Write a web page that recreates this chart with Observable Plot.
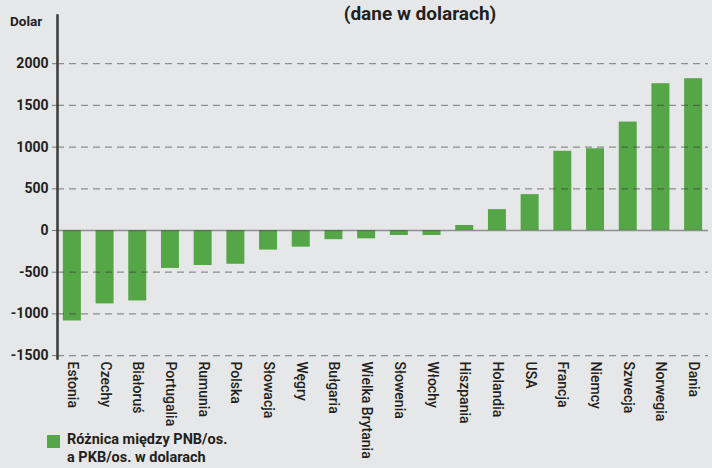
<!DOCTYPE html>
<html>
<head>
<meta charset="utf-8">
<script src="https://cdn.jsdelivr.net/npm/d3@7"></script>
<script src="https://cdn.jsdelivr.net/npm/@observablehq/plot@0.6"></script>
<style>
  html, body { margin: 0; padding: 0; background: #e6e7e8; }
  #wrap { position: relative; width: 712px; height: 468px; overflow: hidden; background: #e6e7e8; font-family: Roboto, "Open Sans", sans-serif; color: #231f20; }
  #title { position: absolute; left: 0; width: 840px; top: 2px; text-align: center; font-weight: 700; font-size: 19px; }
  #ylab { position: absolute; left: 10px; top: 13px; font-weight: 700; font-size: 13.5px; }
  #legend { position: absolute; left: 47px; top: 431px; font-weight: 700; font-size: 14.5px; line-height: 18px; }
  #legend .sw { position: absolute; left: 0; top: 4px; width: 13px; height: 13px; background: #55a647; }
  #legend .tx { position: absolute; left: 20px; top: 0; white-space: nowrap; }
  #chart { position: absolute; left: 0; top: 0; }
</style>
</head>
<body>
<div id="wrap">
  <div id="chart"></div>
  <div id="title">(dane w dolarach)</div>
  <div id="ylab">Dolar</div>
  <div id="legend"><div class="sw"></div><div class="tx">Różnica między PNB/os.<br>a PKB/os. w dolarach</div></div>
</div>
<script>
const countries = ["Estonia","Czechy","Białoruś","Portugalia","Rumunia","Polska","Słowacja","Węgry","Bułgaria","Wielka Brytania","Słowenia","Włochy","Hiszpania","Holandia","USA","Francja","Niemcy","Szwecja","Norwegia","Dania"];
const values = [-1085,-880,-845,-455,-420,-405,-235,-200,-110,-100,-60,-60,60,250,430,950,980,1300,1760,1820];
const yTicks = [-1500,-1000,-500,0,500,1000,1500,2000];
const gridTicks = [-1500,-1000,-500,500,1000,1500,2000];

const data = countries.map((c, i) => ({country: c, value: values[i]}));

const chart = Plot.plot({
  width: 712,
  height: 468,
  marginTop: 15,
  marginBottom: 110,
  marginLeft: 57,
  marginRight: 4,
  style: {background: "transparent", fontFamily: "Roboto, 'Open Sans', sans-serif", color: "#231f20"},
  x: {domain: countries, paddingInner: 0.45, paddingOuter: 0.18, round: false, label: null},
  y: {domain: [-1535, 2578], label: null},
  marks: [
    Plot.barY(data, {x: "country", y: "value", fill: "#55a647"}),
    Plot.gridY(gridTicks, {stroke: "#333", strokeOpacity: 0.5, strokeDasharray: "7,5", strokeWidth: 1.3}),
    Plot.ruleY([0], {stroke: "#555", strokeOpacity: 0.6, strokeWidth: 1.5}),
    Plot.axisY(yTicks, {tickSize: 5, tickPadding: 4, stroke: "#777", tickFormat: d => String(d), fontSize: 14, fontWeight: 700, fill: "#231f20"}),
    Plot.frame({anchor: "left", stroke: "#3a3a3a", strokeWidth: 2.5}),
    Plot.axisX({tickSize: 0, tickPadding: 3, tickRotate: 90, fontSize: 14, fontWeight: 500, fill: "#231f20"})
  ]
});
document.getElementById("chart").appendChild(chart);
</script>
</body>
</html>
